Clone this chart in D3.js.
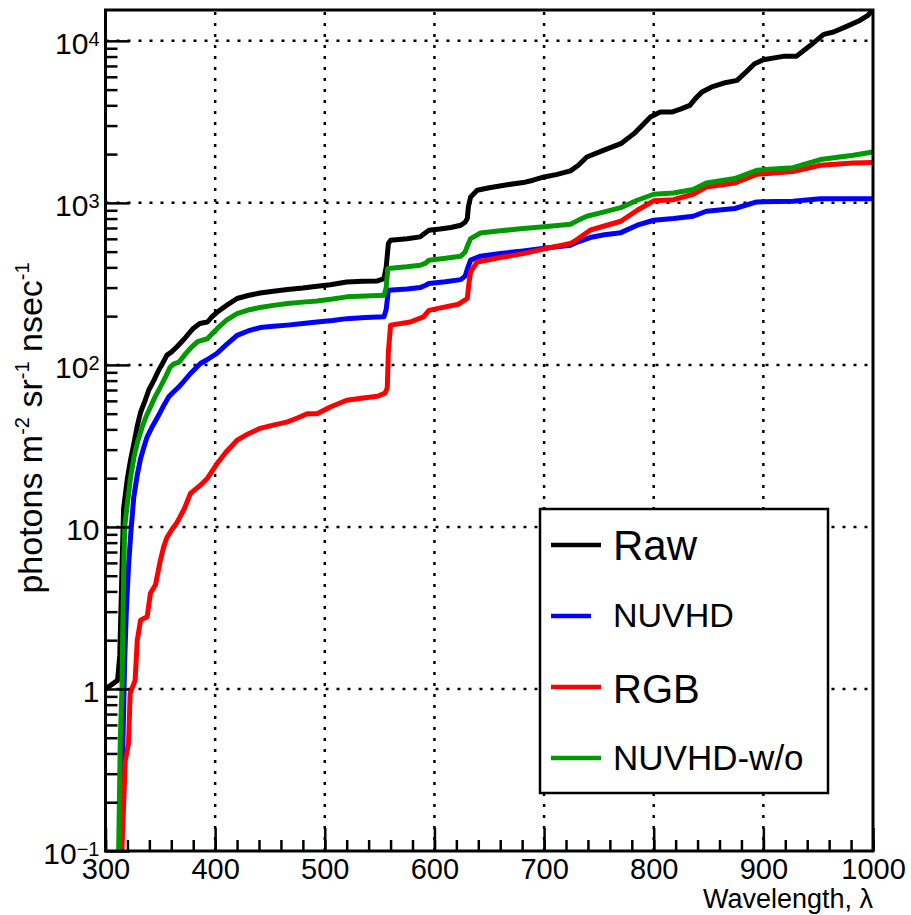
<!DOCTYPE html>
<html>
<head>
<meta charset="utf-8">
<script src="https://cdn.jsdelivr.net/npm/d3@7"></script>
<style>
  body { margin: 0; background: #fff; }
  svg { display: block; font-family: "Liberation Sans", Arial, Helvetica, sans-serif; }
</style>
</head>
<body>
<div id="chart"></div>
<script>
// Integrated photon flux vs wavelength, one series per filter setup.
// Each series is a list of [wavelength (nm), photons m^-2 sr^-1 nsec^-1].

const rawData = [
  [300, 1.0], [311, 1.13], [313, 1.6], [314.5, 4], [316.5, 13], [320, 20], [322.8, 25.8],
  [326, 33], [329, 42], [332, 51], [336, 60], [339.5, 70], [344, 80], [348.6, 93],
  [352, 102], [356, 115], [360, 120], [365, 129], [372, 145], [380, 168], [386, 180],
  [393, 184], [397, 198], [402, 212], [410, 232], [420, 257], [430, 268], [441, 278],
  [453, 285], [466, 292], [480, 298], [493, 306], [505, 312], [520, 325], [535, 328],
  [548, 330], [554, 341], [556, 400], [558, 560], [560, 588], [575, 600], [587, 617],
  [590, 640], [595, 678], [605, 690], [615, 705], [624, 728], [628, 760], [630, 800],
  [631, 950], [633, 1087], [639, 1196], [650, 1240], [665, 1290], [681, 1334], [690, 1380],
  [700, 1445], [712, 1500], [724, 1575], [731, 1700], [739, 1920], [754, 2110], [770, 2320],
  [782, 2675], [797, 3390], [806, 3640], [817, 3640], [825, 3800], [833, 4000], [838, 4400],
  [844, 4830], [853, 5190], [864, 5490], [876, 5700], [884, 6400], [892, 7230], [900, 7650],
  [918, 8020], [930, 8020], [943, 9380], [955, 10960], [964, 11330], [976, 12280],
  [988, 13370], [995, 14300], [1000, 15500]
];

const nuvhdData = [
  [314, 0.1], [316, 0.5], [317.5, 1.5], [319, 3], [321, 5.7], [323, 9], [325.8, 15.3],
  [329, 21], [332, 26.4], [335, 31], [338, 36], [343, 42], [348.6, 49], [353, 56],
  [357.7, 63.5], [362, 68], [366.8, 73], [372, 80], [377.5, 88.5], [386.6, 102], [393, 108],
  [401.8, 118], [410, 133], [420, 152], [430, 162], [441, 170], [453, 173], [466, 176],
  [480, 180], [493, 184], [507, 188], [520, 193], [537, 196], [554, 198], [556, 220],
  [558, 289], [575, 294], [587, 300], [592, 310], [595, 318], [610, 326], [624, 336],
  [628, 353], [630, 390], [633, 443], [642, 469], [660, 487], [681, 505], [700, 525],
  [724, 547], [731, 575], [742, 611], [755, 635], [770, 655], [785, 728], [800, 781],
  [818, 800], [836, 827], [848, 888], [874, 923], [894, 1013], [927, 1023], [952, 1062],
  [1000, 1062]
];

const rgbData = [
  [315, 0.1], [318, 0.36], [321, 0.46], [322.5, 0.94], [327, 1.13], [329, 2.0], [332, 2.66],
  [338, 2.79], [341, 3.9], [345.6, 4.4], [350, 6.2], [353, 7.5], [356, 8.6], [360, 9.5],
  [365, 10.6], [372, 13], [377.5, 16.1], [386.6, 18.1], [393, 20], [402, 24.7], [410, 29],
  [420, 34.3], [430, 37.5], [441, 40.6], [453, 42.5], [466, 44.5], [475, 47], [484, 50],
  [493, 50], [505, 55], [520, 60.5], [535, 62.5], [548, 64], [555, 67], [557, 72],
  [558, 120], [560, 176], [578, 184], [590, 198], [595, 217], [610, 228], [622, 237],
  [630, 257], [631.5, 320], [633, 375], [639, 432], [660, 460], [681, 486], [700, 520],
  [724, 561], [731, 600], [742, 678], [755, 720], [770, 770], [785, 900], [800, 1030],
  [818, 1047], [836, 1130], [848, 1252], [874, 1327], [894, 1500], [927, 1560],
  [952, 1706], [982, 1763], [1000, 1772]
];

const nuvhdWoData = [
  [312, 0.1], [313.5, 0.5], [315, 1], [316.5, 5], [317.5, 10], [320, 14], [322.8, 20],
  [326, 27], [329, 33], [333.5, 41.5], [337, 48], [341, 55], [345, 63], [350, 73],
  [355, 85], [359, 97], [362, 101], [367, 104], [373, 117], [378, 128], [384, 139],
  [393, 145], [397, 155], [402, 168], [410, 188], [420, 207], [430, 218], [441, 226],
  [453, 233], [466, 239], [480, 244], [493, 248], [507, 255], [520, 263], [537, 266],
  [554, 269], [556, 300], [557.5, 394], [575, 403], [587, 412], [592, 425], [595, 443],
  [610, 455], [624, 469], [628, 498], [630, 540], [633, 602], [642, 652], [660, 672],
  [681, 694], [700, 712], [724, 738], [731, 780], [739, 827], [755, 880], [770, 935],
  [785, 1038], [800, 1130], [818, 1150], [836, 1208], [848, 1327], [874, 1412],
  [894, 1590], [927, 1650], [952, 1850], [982, 1966], [1000, 2060]
];

const seriesNames = ["Raw", "NUVHD", "RGB", "NUVHD-w/o"];
const seriesColors = ["#000000", "#0000ff", "#ff0000", "#009a00"];
const seriesData = [rawData, nuvhdData, rgbData, nuvhdWoData];

const xTickValues = [300, 400, 500, 600, 700, 800, 900, 1000];
const yTickValues = [0.1, 1, 10, 100, 1000, 10000];
const xDomain = [300, 1000];
const yDomain = [0.1, 15500];

// Frame of the plot (ROOT-style pad)
const width = 911, height = 915;
const frame = { left: 105.5, right: 873, top: 10, bottom: 851 };

const svg = d3.select("#chart")
  .append("svg")
    .attr("width", width)
    .attr("height", height);

const x = d3.scaleLinear()
  .domain(xDomain)
  .range([frame.left, frame.right]);

const y = d3.scaleLog()
  .domain(yDomain)
  .range([frame.bottom, frame.top]);

// Dotted grid
const grid = svg.append("g")
    .attr("stroke", "#000")
    .attr("stroke-width", 2.5)
    .attr("stroke-dasharray", "3,8");

grid.selectAll(".vgrid")
  .data(xTickValues.slice(1, -1))
  .join("line")
    .attr("class", "vgrid")
    .attr("x1", d => x(d)).attr("x2", d => x(d))
    .attr("y1", frame.bottom).attr("y2", frame.top);

grid.selectAll(".hgrid")
  .data(yTickValues.slice(1))
  .join("line")
    .attr("class", "hgrid")
    .attr("x1", frame.left).attr("x2", frame.right)
    .attr("y1", d => y(d)).attr("y2", d => y(d));

// Curves, clipped to the frame
svg.append("clipPath")
    .attr("id", "plot-clip")
  .append("rect")
    .attr("x", frame.left)
    .attr("y", frame.top)
    .attr("width", frame.right - frame.left)
    .attr("height", frame.bottom - frame.top);

const line = d3.line()
  .x(d => x(d[0]))
  .y(d => y(d[1]));

svg.append("g")
    .attr("clip-path", "url(#plot-clip)")
  .selectAll("path")
  .data(seriesData)
  .join("path")
    .attr("fill", "none")
    .attr("stroke", (d, i) => seriesColors[i])
    .attr("stroke-width", 5)
    .attr("stroke-linejoin", "round")
    .attr("d", line);

// Log-axis labels: 1, 10, then 10^n
function setLogLabel(sel) {
  sel.each(function(d) {
    const e = Math.round(Math.log10(d));
    const t = d3.select(this).text(null);
    if (e === 0 || e === 1) {
      t.text(e === 0 ? "1" : "10");
    } else {
      t.append("tspan").text("10");
      t.append("tspan")
        .attr("dy", -8)
        .attr("font-size", 20)
        .text(e < 0 ? "\u2212" + (-e) : e);
    }
  });
}

// Y axis: major and minor ticks point into the frame
const yMinor = [];
for (let p = -1; p < 5; p++) {
  for (let m = 2; m <= 9; m++) {
    const v = m * Math.pow(10, p);
    if (v <= yDomain[1]) yMinor.push(v);
  }
}

svg.append("g")
    .attr("transform", `translate(${frame.left},0)`)
    .call(d3.axisLeft(y).tickValues(yMinor).tickSize(-12).tickFormat(""))
    .call(g => g.select(".domain").remove())
    .call(g => g.selectAll("line").attr("stroke-width", 2.5));

const yAxis = svg.append("g")
    .attr("transform", `translate(${frame.left},0)`)
    .call(d3.axisLeft(y).tickValues(yTickValues).tickSizeInner(-24).tickSizeOuter(0).tickPadding(6))
    .call(g => g.select(".domain").remove())
    .call(g => g.selectAll("line").attr("stroke-width", 2.5));

yAxis.selectAll("text")
    .attr("font-size", 30)
    .attr("font-family", null)
    .attr("fill", "#000")
    .attr("dy", "0.42em")
    .call(setLogLabel);

// X axis
svg.append("g")
    .attr("transform", `translate(0,${frame.bottom})`)
    .call(d3.axisBottom(x).tickValues(d3.range(300, 1001, 20)).tickSize(-11).tickFormat(""))
    .call(g => g.select(".domain").remove())
    .call(g => g.selectAll("line").attr("stroke-width", 2.5));

const xAxis = svg.append("g")
    .attr("transform", `translate(0,${frame.bottom})`)
    .call(d3.axisBottom(x).tickValues(xTickValues).tickFormat(d3.format("d"))
      .tickSizeInner(-23).tickSizeOuter(0).tickPadding(7))
    .call(g => g.select(".domain").remove())
    .call(g => g.selectAll("line").attr("stroke-width", 2.5));

xAxis.selectAll("text")
    .attr("font-size", 29)
    .attr("font-family", null)
    .attr("fill", "#000");

// Frame on top of everything inside
svg.append("rect")
    .attr("x", frame.left)
    .attr("y", frame.top)
    .attr("width", frame.right - frame.left)
    .attr("height", frame.bottom - frame.top)
    .attr("fill", "none")
    .attr("stroke", "#000")
    .attr("stroke-width", 3);

// Axis titles
svg.append("text")
    .attr("x", frame.right)
    .attr("y", 908)
    .attr("text-anchor", "end")
    .attr("font-size", 27)
    .text("Wavelength, \u03bb");

const yTitle = svg.append("text")
    .attr("transform", "translate(42,428) rotate(-90)")
    .attr("text-anchor", "middle")
    .attr("font-size", 34);
const yParts = [["photons m", 0], ["-2", 1], [" sr", 0], ["-1", 1], [" nsec", 0], ["-1", 1]];
let up = false;
yParts.forEach(([s, sup]) => {
  const ts = yTitle.append("tspan").text(s);
  if (sup && !up) { ts.attr("dy", -13).attr("font-size", 20); up = true; }
  else if (sup) { ts.attr("font-size", 20); }
  else if (up) { ts.attr("dy", 13); up = false; }
});

// Legend
const legend = svg.append("g");
legend.append("rect")
    .attr("x", 540).attr("y", 509)
    .attr("width", 288).attr("height", 284)
    .attr("fill", "#fff")
    .attr("stroke", "#000")
    .attr("stroke-width", 2.5);

// per-entry layout: line y, text baseline, font size, line length
const legendLayout = [
  { ly: 545, ty: 560, fs: 42, len: 50 },
  { ly: 616, ty: 627, fs: 34, len: 40 },
  { ly: 687, ty: 703, fs: 40, len: 50 },
  { ly: 758, ty: 770, fs: 35, len: 50 }
];

const entries = legend.selectAll(".entry")
  .data(seriesNames)
  .join("g")
    .attr("class", "entry");

entries.append("line")
    .attr("x1", 551)
    .attr("x2", (d, i) => 551 + legendLayout[i].len)
    .attr("y1", (d, i) => legendLayout[i].ly)
    .attr("y2", (d, i) => legendLayout[i].ly)
    .attr("stroke", (d, i) => seriesColors[i])
    .attr("stroke-width", 4.5);

entries.append("text")
    .attr("x", 613)
    .attr("y", (d, i) => legendLayout[i].ty)
    .attr("font-size", (d, i) => legendLayout[i].fs)
    .text(d => d);
</script>
</body>
</html>
